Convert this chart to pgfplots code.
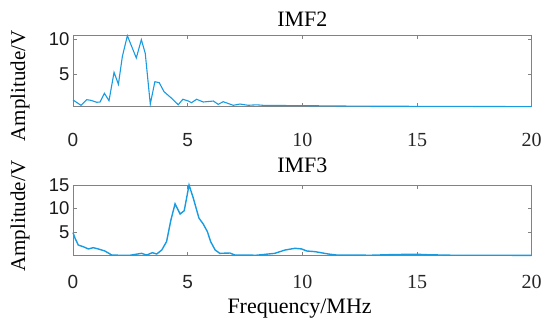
\documentclass[border=0pt]{standalone}
\usepackage{fontspec}
\setmainfont{Liberation Serif}
\setsansfont{Liberation Sans}
\usepackage{pgfplots}
\pgfplotsset{compat=1.18}
\definecolor{lineblue}{RGB}{25,155,225}
\definecolor{axgray}{RGB}{130,130,130}
\pgfplotsset{
  imfstyle/.style={
    scale only axis,
    width=458.7pt,
    xmin=0, xmax=20,
    axis line style={axgray, line width=0.8pt},
    major tick style={axgray, line width=0.6pt},
    major tick length=4pt,
    tick align=inside,
    xtick={0,5,10,15,20},
    xticklabels={{\sffamily\fontsize{19}{19}\selectfont 0},{\sffamily\fontsize{19}{19}\selectfont 5},10,15,20},
    xticklabel style={font=\fontsize{20}{20}\selectfont, anchor=base, text=black!85},
    yticklabel style={font=\sffamily\fontsize{18.5}{18.5}\selectfont, text=black!90},
    ylabel={Amplitude/V},
    ylabel style={font=\fontsize{21}{21}\selectfont, anchor=center},
    title style={font=\fontsize{22}{22}\selectfont, anchor=base, at={(axis description cs:0.5,1)}},
    clip=false,
  }
}
\begin{document}
\begin{tikzpicture}
\useasboundingbox (-73pt,35pt) rectangle (477pt,-294pt);
\begin{axis}[imfstyle,
  at={(0pt,0pt)}, anchor=north west,
  height=71.7pt,
  ymin=0.33, ymax=10.57,
  ytick={5,10}, yticklabels={5,10},
  xticklabel style={yshift=-40pt},
  ylabel style={at={(axis description cs:-0.1155,0.29)}},
  title={IMF2}, title style={yshift=2.5pt},
]
\addplot[lineblue, line width=1.1pt] coordinates {
(0,1.29) (0.35,0.53) (0.6,1.33) (0.78,1.24) (1.03,0.96) (1.18,1.0) (1.37,2.24) (1.57,1.19)
(1.79,5.24) (1.98,3.53) (2.15,7.47) (2.37,10.47) (2.76,7.29) (2.98,9.9) (3.15,7.96) (3.37,0.71)
(3.57,3.9) (3.76,3.76) (3.97,2.47) (4.30,1.53) (4.59,0.61) (4.79,1.39) (5.03,1.14) (5.17,0.9)
(5.39,1.39) (5.68,1.0) (6.12,1.14) (6.33,0.67) (6.55,1.04) (6.99,0.53) (7.28,0.71) (7.64,0.53)
(8.0,0.6) (8.4,0.5) (9,0.5) (10,0.48) (11,0.45) (12,0.42) (13,0.4) (14,0.4) (15,0.38)
(16,0.37) (17,0.37) (18,0.36) (19,0.35) (20,0.35)
};
\end{axis}
\begin{axis}[imfstyle,
  at={(0pt,-150pt)}, anchor=north west,
  height=70.7pt,
  ymin=0, ymax=15,
  ytick={5,10,15}, yticklabels={5,10,15},
  xticklabel style={yshift=-33pt},
  ylabel style={at={(axis description cs:-0.1155,0.56)}},
  title={IMF3}, title style={yshift=7pt},
  xlabel={Frequency/MHz},
  xlabel style={font=\fontsize{22}{22}\selectfont, anchor=base, at={(axis description cs:0.494,-0.82)}},
]
\addplot[lineblue, line width=1.4pt] coordinates {
(0,4.9) (0.09,3.7) (0.23,2.27) (0.45,1.9) (0.67,1.43) (0.88,1.7) (1.1,1.43) (1.39,1.0)
(1.69,0.14) (2.0,0.1) (2.5,0.1) (2.99,0.5) (3.21,0.14) (3.46,0.64) (3.65,0.36) (3.87,1.2)
(4.08,3.0) (4.27,7.6) (4.45,11.0) (4.67,8.85) (4.85,9.55) (5.06,15) (5.24,12.3) (5.49,8.0)
(5.68,6.7) (5.86,5.1) (6.0,3.0) (6.2,1.2) (6.4,0.5) (6.84,0.57) (7.06,0.14) (8.0,0.1)
(8.8,0.5) (9.24,1.2) (9.68,1.57) (9.97,1.43) (10.19,1.0) (10.55,0.86) (11.13,0.36) (11.5,0.14)
(13,0.1) (14,0.25) (15,0.3) (15.5,0.2) (16.5,0.1) (20,0.08)
};
\end{axis}
\end{tikzpicture}
\end{document}
